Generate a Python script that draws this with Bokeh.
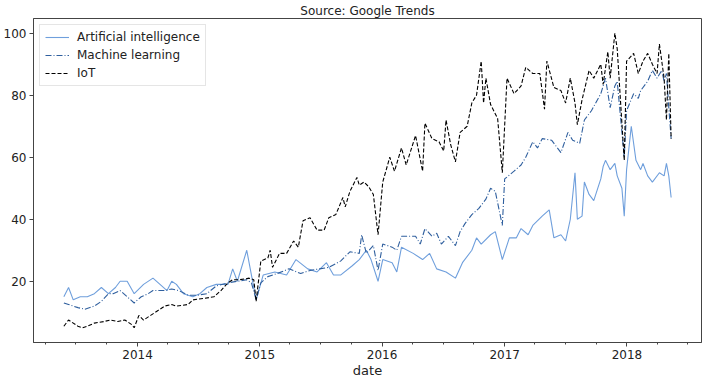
import pandas as pd
from bokeh.plotting import figure
from bokeh.models import Range1d, FixedTicker, DatetimeTickFormatter
from bokeh.embed import file_html
from bokeh.resources import INLINE

# Weekly Google Trends data, weeks counted from the first week (2013-05-26)
start_date = "2013-05-26"
last_week = 259

ai_weeks = [0,2,4,7,10,13,16,19,22,24,27,30,34,38,41,44,46,48,51,55,58,61,65,70,72,74,78,80,82,85,
            90,95,99,104,108,112,115,118,123,126,129,131,134,136,140,142,144,149,153,156,159,163,167,170,174,
            176,178,182,184,187,190,193,195,198,200,204,207,209,212,214,216,218,219,221,222,224,226,229,230,231,
            233,235,236,238,239,240,242,244,246,247,249,251,254,256,257,258,259]
ai_vals = [15,18,14,15,15,16,18,16,18,20,20,16,19,21,19,17,20,19,16,15,16,18,19,19,24,20,30,22,14,22,
           23,22,27,24,23,26,22,22,25,27,30,27,20,27,26,23,31,29,27,29,24,23,21,26,30,
           34,32,35,36,27,34,34,37,35,38,41,43,34,35,33,40,55,40,41,52,48,46,53,57,59,
           56,58,54,50,41,56,70,59,56,58,54,52,55,54,58,54,47]

ml_weeks = [0,2,6,9,13,16,19,21,24,27,30,33,36,38,43,46,49,53,57,61,65,70,74,78,80,82,84,87,91,96,
            101,105,109,113,118,122,126,127,129,132,134,136,140,142,144,147,150,152,154,157,159,161,164,167,169,
            171,174,177,180,182,184,187,188,192,195,197,200,202,204,208,212,215,217,220,222,225,229,231,233,235,
            236,239,240,243,245,246,249,251,253,255,256,257,258,259]
ml_vals = [13,12.5,11.5,11,12,13.5,16,16,17,15,13,15,16,17,17,17.5,17,15.5,15.5,16,18.5,19.5,20,20.5,19.5,14,19.5,21.5,22.5,24,
           22.5,23.5,24,24.5,26.5,29.5,29,35,29,31.5,23.5,32,31,30,34.5,34.5,34.5,32,37,34.5,35.5,32,34.5,31.5,36,
           38.5,41.5,43.5,46.5,50,49,38,53,55.5,57.5,60,65,63,66,65.5,61.5,68,65.5,64.5,72,75,80.5,85.5,76,83,
           84.5,60,75,80.5,79,81.5,84.5,88,85.5,88,84.5,87,76,66]

iot_weeks = [0,2,6,8,10,13,17,20,23,26,29,30,32,34,37,40,43,46,48,53,55,60,64,67,70,72,75,79,81,82,
             84,87,88,89,92,95,98,100,102,105,108,111,113,116,119,120,122,125,126,128,130,132,134,136,139,
             141,144,146,150,153,154,157,160,162,163,165,167,169,172,174,176,178,179,180,182,185,187,189,192,195,
             197,200,203,205,206,209,212,214,216,218,219,221,224,226,229,230,232,233,235,236,239,240,243,245,247,
             249,251,253,254,256,257,258,259]
iot_vals = [5.5,7.5,5.5,5,5.5,6.5,7,7.5,7,7.5,6,5,9,7.5,9,10.5,12,12.5,12,12.5,14,14.5,15,17,19.5,20.5,20.5,21,20.5,13.5,
            26.5,27.5,30,24.5,29,29,33,31,39.5,40.5,36.5,36.5,40.5,41.5,47,44,49,53.5,51,52,50.5,48,35,52,60,
            55.5,63,57.5,67,55.5,71,66,65,62,72,64,58.5,68,70,77.5,80,91,77.5,85.5,77,72.5,55,85.5,80.5,83,
            89,87,87,75.5,91,82.5,81.5,77.5,85.5,77.5,70.5,78.5,88,85.5,90,83.5,94,85.5,100,95,59,91,93.5,87,91,
            93.5,90,87,96.5,85.5,72,93.5,66]

year_ticks = [2014, 2015, 2016, 2017, 2018]
series_labels = ["Artificial intelligence", "Machine learning", "IoT"]
title_text = "Source: Google Trends"
x_label = "date"
y_ticks = [20, 40, 60, 80, 100]

t0 = pd.Timestamp(start_date)


def to_dates(weeks):
    return [t0 + pd.Timedelta(days=7 * w) for w in weeks]


t_end = t0 + pd.Timedelta(days=7 * last_week)
span = t_end - t0
all_vals = ai_vals + ml_vals + iot_vals
vmin, vmax = min(all_vals), max(all_vals)
vpad = (vmax - vmin) * 0.05

FONT = "DejaVu Sans"

p = figure(frame_width=668, frame_height=324, x_axis_type="datetime",
           output_backend="svg", toolbar_location=None,
           x_range=Range1d(t0 - span * 0.05, t_end + span * 0.05),
           y_range=Range1d(vmin - vpad, vmax + vpad),
           min_border_left=0, min_border_right=3, min_border_top=0, min_border_bottom=0)

p.title.text = title_text
p.title.align = "center"
p.title.text_font = FONT
p.title.text_font_size = "12px"
p.title.text_font_style = "normal"
p.title.text_color = "#222222"
p.title.standoff = 2

p.line(to_dates(ai_weeks), ai_vals, color="#6f9fdc", line_width=1.1,
       legend_label=series_labels[0])
p.line(to_dates(ml_weeks), ml_vals, color="#2f5f9e", line_width=1.1,
       line_dash="6 2 1 2", legend_label=series_labels[1])
p.line(to_dates(iot_weeks), iot_vals, color="black", line_width=1.1,
       line_dash="4 2", legend_label=series_labels[2])

p.grid.visible = False
p.outline_line_color = "#444444"
p.outline_line_width = 1

major = [pd.Timestamp(f"{y}-01-01").value // 10**6 for y in year_ticks]
minor = []
for y in range(2013, 2019):
    for m in (1, 4, 7, 10):
        minor.append(pd.Timestamp(f"{y}-{m:02d}-01").value // 10**6)
p.xaxis.ticker = FixedTicker(ticks=major, minor_ticks=minor)
p.xaxis.formatter = DatetimeTickFormatter(years="%Y", months="%Y", days="%Y",
                                          hours="%Y", minutes="%Y", seconds="%Y",
                                          milliseconds="%Y", microseconds="%Y")
p.yaxis.ticker = FixedTicker(ticks=y_ticks)
p.xaxis.axis_label = x_label

for ax in (p.xaxis, p.yaxis):
    ax.major_label_text_font = FONT
    ax.major_label_text_font_size = "12px"
    ax.major_label_text_color = "#222222"
    ax.axis_line_color = "#444444"
    ax.major_tick_line_color = "#444444"
    ax.minor_tick_line_color = "#444444"
    ax.major_tick_in = 0
    ax.major_tick_out = 4
    ax.minor_tick_in = 0
    ax.minor_tick_out = 2
    ax.axis_label_text_font = FONT
    ax.axis_label_text_font_size = "13px"
    ax.axis_label_text_font_style = "normal"
    ax.axis_label_text_color = "#222222"
p.xaxis.axis_label_standoff = 1
p.xaxis.major_label_standoff = 3
p.yaxis.major_label_standoff = 3

lg = p.legend[0]
lg.location = "top_left"
lg.label_text_font = FONT
lg.label_text_font_size = "12px"
lg.label_text_color = "#222222"
lg.glyph_width = 24
lg.glyph_height = 14
lg.label_height = 14
lg.label_standoff = 8
lg.spacing = 4
lg.padding = 5
lg.margin = 6
lg.border_line_color = "#cccccc"
lg.background_fill_alpha = 0.85

open("out.html", "w").write(file_html(p, INLINE))
